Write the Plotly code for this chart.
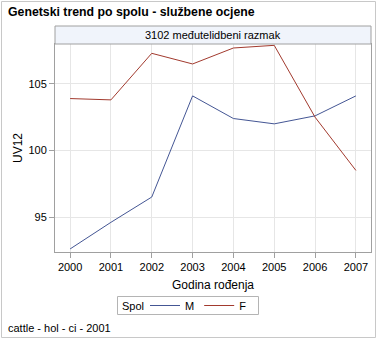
import plotly.graph_objects as go

years = [2000, 2001, 2002, 2003, 2004, 2005, 2006, 2007]
uv12_m = [92.6, 94.6, 96.5, 104.1, 102.4, 102.0, 102.6, 104.1]
uv12_f = [103.9, 103.8, 107.3, 106.5, 107.7, 107.9, 102.5, 98.5]
series_names = ["M", "F"]
series_colors = ["#445694", "#A23A2E"]

W, H = 378, 340
L, R, T, B = 55, 7, 44, 88
pw, ph = W - L - R, H - T - B

FONT = "Arial, Liberation Sans, sans-serif"

fig = go.Figure()
for name, vals, col in zip(series_names, [uv12_m, uv12_f], series_colors):
    fig.add_trace(go.Scatter(x=years, y=vals, mode="lines", name=name,
                             line=dict(color=col, width=1)))

axis_common = dict(showline=True, linecolor="#a0a0a0", linewidth=1, mirror=True,
                   showgrid=True, gridcolor="#e6e6e6", gridwidth=1,
                   ticks="outside", ticklen=5, tickcolor="#a0a0a0",
                   zeroline=False, tickfont=dict(size=11, color="#000"))

def px_x(px):
    return (px - L) / pw

def px_y(py):
    return (T + ph - py) / ph

fig.update_layout(
    width=W, height=H,
    margin=dict(l=L, r=R, t=T, b=B, pad=0),
    paper_bgcolor="white", plot_bgcolor="white",
    font=dict(family=FONT, color="#000"),
    title=dict(text="<b>Genetski trend po spolu - službene ocjene</b>",
               xref="container", yref="container", x=8 / W, xanchor="left",
               y=1 - 12 / H, yanchor="middle", font=dict(size=12.3, color="#000")),
    xaxis=dict(axis_common, range=[1999.63, 2007.37], tickmode="array", tickvals=years,
               ticktext=[str(y) for y in years],
               title=dict(text="Godina rođenja", font=dict(size=12), standoff=8)),
    yaxis=dict(axis_common, range=[92.37, 108.0], tickvals=[95, 100, 105],
               title=dict(text="UV12", font=dict(size=12), standoff=3)),
    legend=dict(orientation="h", x=px_x(145), xanchor="left",
                y=px_y(305.5), yanchor="middle",
                borderwidth=0, bgcolor="rgba(0,0,0,0)",
                font=dict(size=11), itemwidth=30, tracegroupgap=0),
    shapes=[
        dict(type="rect", xref="paper", yref="paper", x0=0, x1=1, y0=1, y1=1 + 18 / ph,
             fillcolor="#f0f4fb", line=dict(color="#a0a0a0", width=1), layer="above"),
        dict(type="rect", xref="paper", yref="paper",
             x0=-(L - 1.5) / pw, x1=1 + (R - 2.5) / pw,
             y0=-(B - 2.5) / ph, y1=1 + (T - 1.5) / ph,
             line=dict(color="#c8c8c8", width=1), fillcolor="rgba(0,0,0,0)"),
        dict(type="rect", xref="paper", yref="paper",
             x0=px_x(117.5), x1=px_x(258.5), y0=px_y(314.5), y1=px_y(296.5),
             line=dict(color="#b4b4b4", width=1), fillcolor="rgba(0,0,0,0)"),
    ],
    annotations=[
        dict(text="3102 međutelidbeni razmak", xref="paper", yref="paper", x=0.5,
             y=1 + 9 / ph, xanchor="center", yanchor="middle", showarrow=False,
             font=dict(size=11)),
        dict(text="Spol", xref="paper", yref="paper", x=px_x(120), xanchor="left",
             y=px_y(305.5), yanchor="middle", showarrow=False, font=dict(size=11)),
        dict(text="cattle - hol - ci - 2001", xref="paper", yref="paper",
             x=px_x(6), xanchor="left", y=px_y(328), yanchor="middle",
             showarrow=False, font=dict(size=11)),
    ],
)

fig.write_html("out.html")
